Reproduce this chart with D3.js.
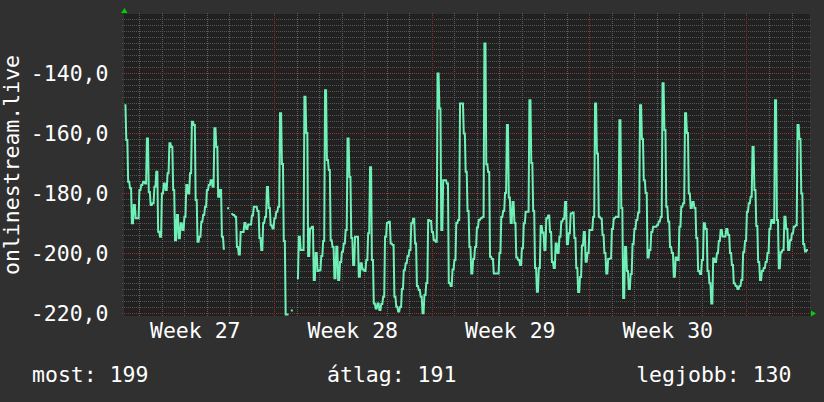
<!DOCTYPE html>
<html>
<head>
<meta charset="utf-8">
<script src="https://cdn.jsdelivr.net/npm/d3@7"></script>
<style>
    html, body { margin: 0; padding: 0; background: #303030; }
    svg { display: block; }
    .label { font-family: "DejaVu Sans Mono", monospace; font-size: 21.5px; fill: #ffffff; }
</style>
</head>
<body>
<svg id="chart" width="824" height="402"></svg>
<script>
var seriesName = "onlinestream.live";
var startTime = "2023-07-03T08:00:00Z";
var endTime = "2023-08-02T18:40:00Z";
var stepHours = 2;

// 2 hour samples, null = no data
var values = [
    -150.7, -162.3, -176.2, -178.4, -190.1, -184, -188.4, -188.4, -179, -177.3,
    -176.2, -176.8, -161.8, -179.6, -184, -183.4, -177.9, -172.9, -192.9, -194.6,
    -180.1, -176.8, -179, -173.4, -163.4, -164.6, -179, -195.7, -187.3, -195.1,
    -190.1, -192.3, -187.9, -177.3, -180.1, -173.4, -156.2, -157.3, -182.3, -196.2,
    -194.6, -189.6, -187.3, -184.6, -179, -177.3, -175.7, -177.9, -158.4, -164.6,
    -181.2, -179, -194.6, -198.6, null, -185.1, null, -187, -187.3, -187.9,
    -198, -200.5, -193, -193, -190, -192, -190.5, -190.5, -187.5, -184.6,
    -184.6, -186, -195, -199, -190, -188, -178, -185, -190.7, -191.8,
    -188.4, -186.2, -184.6, -153.4, -170.3, -196, -220.5, -220.5, null, -219.2,
    null, null, -208.4, -194.6, -199, -199, -147.9, -160, -201, -191.8,
    -191.2, -209, -200, -206, -205.7, -201, -196, -145.7, -169, -172.3,
    -195.7, -198, -208.4, -197.9, -209, -203, -199.6, -196.8, -192.3, -161.8,
    -174.6, -195, -204, -194.6, -194.6, -207.9, -203.4, -205.5, -206, -202.3,
    -193.4, -171.4, -202.3, -216.8, -218.5, -216.8, -219, -217, -214.6, -194.6,
    -190, -189.6, -196.8, -197.3, -214.6, -217.9, -219.5, -218, -212, -205.7,
    -203.4, -201, -199, -190.1, -188.6, -196.8, -211, -212.3, -214.6, -220.1,
    -214, -210, -189, -189.3, -193, -195.7, -196.2, -140.1, -151.8, -192.3,
    -175.7, -175.7, -176.8, -210, -211, -205.5, -202.3, -190, -189, -150.1,
    -150.1, -160.1, -172.9, -186, -198, -206.8, -202, -198, -191.5, -189,
    -188.4, -188, -130.1, -170.4, -173, -201.2, -202, -206.8, -206.8, -206.8,
    -200, -188, -186, -180, -157.3, -181.5, -190, -183, -190, -201.5,
    -202.3, -204, -198.4, -190.1, -186.2, -186.2, -149, -170, -186, -205,
    -212.9, -205, -191, -193.2, -199, -188.4, -187.5, -193, -203, -205,
    -196.8, -200, -194.6, -189.5, -188.6, -183, -197, -193.4, -186.8, -186.5,
    -195, -205, -213, -208, -197.5, -193, -202.9, -200, -192.3, -192.3,
    -188, -150.1, -166.8, -187.9, -188.5, -194, -200, -206.8, -202, -201.8,
    -192, -188.4, -187.9, -188, -155.7, -185, -215, -198, -206, -212,
    -207, -197, -192, -189, -186.5, -150.7, -162, -175.7, -180, -201.5,
    -199, -193, -191.2, -191.2, -190.7, -189.5, -188, -143.4, -159, -184.6,
    -189.5, -198, -200, -207.9, -201.5, -202.3, -191.2, -184.6, -183.4, -153.4,
    -160, -180.1, -185, -183, -185, -195, -206, -207, -202.3, -190.1,
    -192, -206, -210.1, -216.8, -201.8, -203, -200.1, -196, -192.3, -194.5,
    -194.5, -192, -194, -200, -204, -210.1, -211, -212, -211, -209,
    -199.7, -196, -186.2, -183.4, -181.2, -164.6, -179, -191, -203, -209,
    -206, -205, -203, -200, -192, -189, -190, -149, -189, -205.1,
    -199.7, -199, -187.9, -192, -199, -195.7, -193.5, -191.2, -190.7, -157.3,
    -162, -180.1, -197, -199.5, -199
];

var yDomain = [-220, -120.6];
var yTickValues = [-220, -200, -180, -160, -140];
var yMinorStep = 2;

var legendLabels = ["most", "átlag", "legjobb"];
var legendValues = [199, 191, 130];

function build_chart() {
    var svg = d3.select("#chart");
    const margins = {top: 15, right: 15, bottom: 89, left: 124};
    const width = 824, height = 402;

    var start = new Date(startTime);
    var end = new Date(endTime);

    var xScale = d3.scaleUtc()
        .domain([start, end])
        .range([margins.left, width - margins.right]);
    var yScale = d3.scaleLinear()
        .domain(yDomain)
        .range([height - margins.bottom, margins.top]);

    var locale = d3.formatLocale({decimal: ",", thousands: " ", grouping: [3], currency: ["", ""], minus: "-"});
    var yFormat = locale.format(".1f");

    svg.append("rect")
        .attr("width", width).attr("height", height)
        .attr("fill", "#303030");

    svg.append("rect")
        .attr("x", margins.left).attr("y", margins.top - 1)
        .attr("width", width - margins.right - margins.left + 1)
        .attr("height", height - margins.bottom - margins.top + 4)
        .attr("fill", "#212121");

    var grid = svg.append("g").attr("shape-rendering", "crispEdges");

    // horizontal grid
    var minor = d3.range(yDomain[0], yDomain[1], yMinorStep).filter(v => !yTickValues.includes(v));
    grid.selectAll("line.hminor")
        .data(minor).enter()
        .append("line").attr("class", "hminor")
        .attr("x1", margins.left - 2).attr("x2", width - margins.right + 2)
        .attr("y1", d => Math.round(yScale(d)) + 0.5)
        .attr("y2", d => Math.round(yScale(d)) + 0.5)
        .attr("stroke", "#545454")
        .attr("stroke-dasharray", "1,1");

    // vertical grid: days and week starts
    var days = d3.utcDay.range(d3.utcDay.ceil(start), end).filter(d => d.getUTCDay() != 1);
    var weeks = d3.utcMonday.range(d3.utcMonday.ceil(start), end);
    grid.selectAll("line.vminor")
        .data(days).enter()
        .append("line").attr("class", "vminor")
        .attr("x1", d => Math.round(xScale(d)) + 0.5)
        .attr("x2", d => Math.round(xScale(d)) + 0.5)
        .attr("y1", margins.top - 2).attr("y2", height - margins.bottom + 3)
        .attr("stroke", "#5e5e5e")
        .attr("stroke-dasharray", "1,1");

    grid.selectAll("line.hmajor")
        .data(yTickValues).enter()
        .append("line").attr("class", "hmajor")
        .attr("x1", margins.left - 2).attr("x2", width - margins.right + 2)
        .attr("y1", d => Math.round(yScale(d)) + 0.5)
        .attr("y2", d => Math.round(yScale(d)) + 0.5)
        .attr("stroke", "#8a3434")
        .attr("stroke-dasharray", "1,1");

    grid.selectAll("line.vmajor")
        .data(weeks).enter()
        .append("line").attr("class", "vmajor")
        .attr("x1", d => Math.round(xScale(d)) + 0.5)
        .attr("x2", d => Math.round(xScale(d)) + 0.5)
        .attr("y1", margins.top - 2).attr("y2", height - margins.bottom + 3)
        .attr("stroke", "#8a3434")
        .attr("stroke-dasharray", "1,1");

    // series: each sample flat over the middle of its slot, sloped in between
    var stepMs = stepHours * 3600 * 1000;
    var points = [];
    values.forEach(function(v, i) {
        var t = start.getTime() + i * stepMs;
        var alone = v != null && values[i - 1] == null && values[i + 1] == null;
        var a = alone ? 0 : 0.22, b = alone ? 1 : 0.78;
        points.push({t: new Date(t + a * stepMs), v: v}, {t: new Date(t + b * stepMs), v: v});
    });

    var line = d3.line()
        .defined(d => d.v != null)
        .x(d => xScale(d.t))
        .y(d => yScale(d.v));

    svg.append("path")
        .datum(points)
        .attr("fill", "none")
        .attr("stroke", "#6ff0b6")
        .attr("stroke-width", 2)
        .attr("stroke-linejoin", "miter")
        .attr("d", line);

    // arrows
    var x0 = margins.left, yb = height - margins.bottom, xr = width - margins.right;
    svg.append("path")
        .attr("fill", "#00d000")
        .attr("d", d3.line()([[x0 - 3, margins.top - 2], [x0 + 3.5, margins.top - 2], [x0 + 0.5, margins.top - 7]]));
    svg.append("path")
        .attr("fill", "#00d000")
        .attr("d", d3.line()([[xr + 2, yb - 2.5], [xr + 2, yb + 3.5], [xr + 7, yb + 0.5]]));

    // texts
    svg.selectAll("text.ytick")
        .data(yTickValues).enter()
        .append("text").attr("class", "label ytick")
        .attr("x", 108.5)
        .attr("y", d => yScale(d) + 8)
        .attr("text-anchor", "end")
        .text(d => yFormat(d));

    var weekFormat = d3.utcFormat("Week %V");
    var weekCenters = d3.utcMonday.range(d3.utcMonday.floor(start), end)
        .map(d => new Date(d.getTime() + 3.5 * 86400000))
        .filter(d => d >= start && d <= end);
    svg.selectAll("text.xtick")
        .data(weekCenters).enter()
        .append("text").attr("class", "label xtick")
        .attr("x", d => xScale(d))
        .attr("y", 338)
        .attr("text-anchor", "middle")
        .text(d => weekFormat(d));

    svg.append("text")
        .attr("class", "label")
        .attr("transform", "translate(18.5," + ((margins.top + height - margins.bottom) / 2 + 1) + ") rotate(-90)")
        .attr("text-anchor", "middle")
        .text(seriesName);

    var legendX = [32, 327, 791.5];
    var legendAnchor = ["start", "start", "end"];
    svg.selectAll("text.legend")
        .data(legendLabels).enter()
        .append("text").attr("class", "label legend")
        .attr("x", (d, i) => legendX[i])
        .attr("y", 381.5)
        .attr("text-anchor", (d, i) => legendAnchor[i])
        .text((d, i) => d + ": " + legendValues[i]);
}

build_chart();
</script>
</body>
</html>
